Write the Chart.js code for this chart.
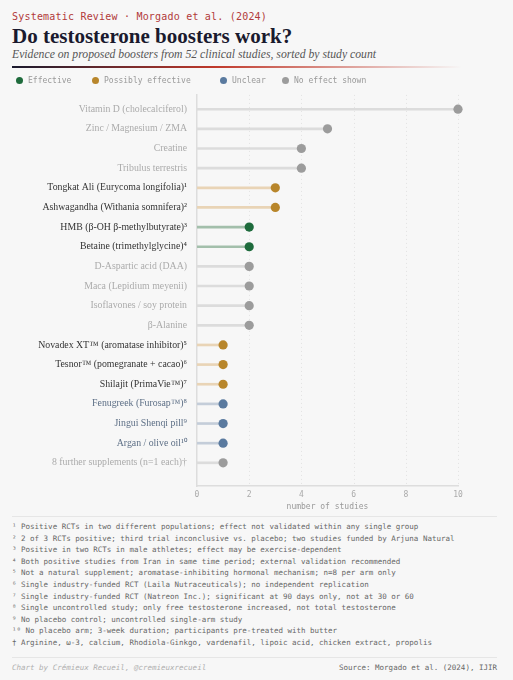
<!DOCTYPE html>
<html lang="en">
<head>
<meta charset="UTF-8">
<title>Do testosterone boosters work?</title>
<script src="https://cdn.jsdelivr.net/npm/chart.js"></script>
<style>
  html, body { margin: 0; padding: 0; background: #f7f7f7; }
  #page { position: relative; width: 513px; height: 680px; overflow: hidden; }
  .kicker { position: absolute; left: 12px; top: 11px; font: 10px "DejaVu Sans Mono", monospace; color: #b23a3a; letter-spacing: 0.2px; }
  .title { position: absolute; left: 12px; top: 24px; font: bold 21px "Liberation Serif", serif; color: #1a1a2e; }
  .subtitle { position: absolute; left: 12px; top: 48px; font: italic 11.7px "Liberation Serif", serif; color: #555; }
  .rule { position: absolute; left: 12px; top: 66px; width: 450px; height: 1.5px;
          background: linear-gradient(to right, #1a1a2e 0%, #c0392b 45%, rgba(192,57,43,0) 100%); }
  .legend { position: absolute; left: 16px; top: 76px; font: 8px "DejaVu Sans Mono", monospace; color: #999; }
  .legend span { position: absolute; white-space: nowrap; }
  .legend i { display: inline-block; width: 7px; height: 7px; border-radius: 50%; vertical-align: -1px; margin-right: 5px; }
  #chartBox { position: absolute; left: 0; top: 79px; width: 513px; height: 437px; }
  .sep { position: absolute; left: 12px; width: 485px; height: 1px; background: #e6e6e6; }
  #notes { position: absolute; left: 12px; top: 521px; font: 7.5px "DejaVu Sans Mono", monospace; color: #666; line-height: 11.6px; white-space: nowrap; }
  .credit { position: absolute; left: 12px; top: 663px; font: italic 7.5px "DejaVu Sans Mono", monospace; color: #b0b0b0; }
  .source { position: absolute; right: 16px; top: 663px; font: 7.5px "DejaVu Sans Mono", monospace; color: #666; }
</style>
</head>
<body>
<div id="page">
  <div class="kicker">Systematic Review · Morgado et al. (2024)</div>
  <div class="title">Do testosterone boosters work?</div>
  <div class="subtitle">Evidence on proposed boosters from 52 clinical studies, sorted by study count</div>
  <div class="rule"></div>
  <div id="chartBox"><canvas id="chart"></canvas></div>
  <div class="legend" id="legend"></div>
  <div class="sep" style="top:516px"></div>
  <div id="notes"></div>
  <div class="sep" style="top:657px"></div>
  <div class="credit">Chart by Crémieux Recueil, @cremieuxrecueil</div>
  <div class="source">Source: Morgado et al. (2024), IJIR</div>
</div>

<script>
// Supplements, top to bottom
var supplements = [
    'Vitamin D (cholecalciferol)',
    'Zinc / Magnesium / ZMA',
    'Creatine',
    'Tribulus terrestris',
    'Tongkat Ali (Eurycoma longifolia)¹',
    'Ashwagandha (Withania somnifera)²',
    'HMB (β-OH β-methylbutyrate)³',
    'Betaine (trimethylglycine)⁴',
    'D-Aspartic acid (DAA)',
    'Maca (Lepidium meyenii)',
    'Isoflavones / soy protein',
    'β-Alanine',
    'Novadex XT™ (aromatase inhibitor)⁵',
    'Tesnor™ (pomegranate + cacao)⁶',
    'Shilajit (PrimaVie™)⁷',
    'Fenugreek (Furosap™)⁸',
    'Jingui Shenqi pill⁹',
    'Argan / olive oil¹⁰',
    '8 further supplements (n=1 each)†'
];

// Number of studies per supplement
var studyCounts = [10, 5, 4, 4, 3, 3, 2, 2, 2, 2, 2, 2, 1, 1, 1, 1, 1, 1, 1];

// Verdict per supplement
var verdicts = [
    'none', 'none', 'none', 'none',
    'possible', 'possible',
    'effective', 'effective',
    'none', 'none', 'none', 'none',
    'possible', 'possible', 'possible',
    'unclear', 'unclear', 'unclear',
    'none'
];

var verdictNames = {
    effective: 'Effective',
    possible: 'Possibly effective',
    unclear: 'Unclear',
    none: 'No effect shown'
};

var xTicks = [0, 2, 4, 6, 8, 10];

var footnotes = [
    '¹ Positive RCTs in two different populations; effect not validated within any single group',
    '² 2 of 3 RCTs positive; third trial inconclusive vs. placebo; two studies funded by Arjuna Natural',
    '³ Positive in two RCTs in male athletes; effect may be exercise-dependent',
    '⁴ Both positive studies from Iran in same time period; external validation recommended',
    '⁵ Not a natural supplement; aromatase-inhibiting hormonal mechanism; n=8 per arm only',
    '⁶ Single industry-funded RCT (Laila Nutraceuticals); no independent replication',
    '⁷ Single industry-funded RCT (Natreon Inc.); significant at 90 days only, not at 30 or 60',
    '⁸ Single uncontrolled study; only free testosterone increased, not total testosterone',
    '⁹ No placebo control; uncontrolled single-arm study',
    '¹⁰ No placebo arm; 3-week duration; participants pre-treated with butter',
    '† Arginine, ω-3, calcium, Rhodiola-Ginkgo, vardenafil, lipoic acid, chicken extract, propolis'
];

// Colours
var dotColor   = { effective: '#1e6b3c', possible: '#b8862b', unclear: '#5a7a9f', none: '#9c9c9c' };
var stemColor  = { effective: '#a3bfab', possible: '#e9d4b6', unclear: '#c4cdd9', none: '#dcdcdc' };
var labelColor = { effective: '#333333', possible: '#333333', unclear: '#5d6f86', none: '#ababab' };

// Legend
var legendLeft = { effective: 0, possible: 76, unclear: 204, none: 266 };
var legend = document.getElementById('legend');
Object.keys(verdictNames).forEach(function (k) {
    var s = document.createElement('span');
    s.style.left = legendLeft[k] + 'px';
    s.innerHTML = '<i style="background:' + dotColor[k] + '"></i>' + verdictNames[k];
    legend.appendChild(s);
});

// Footnotes
document.getElementById('notes').innerHTML = footnotes.join('<br>');

// Chart data
var points = studyCounts.map(function (v, i) { return { x: v, y: i }; });

// dotted vertical gridlines, drawn from the x scale ticks
var dottedGrid = {
    id: 'dottedGrid',
    beforeDatasetsDraw: function (chart) {
        var x = chart.scales.x, area = chart.chartArea, c = chart.ctx;
        c.save();
        c.strokeStyle = '#e2e2e2';
        c.lineWidth = 1;
        c.setLineDash([1, 3]);
        x.ticks.forEach(function (t) {
            if (t.value === 0) return;
            var px = Math.round(x.getPixelForValue(t.value)) + 0.5;
            c.beginPath();
            c.moveTo(px, area.top);
            c.lineTo(px, area.bottom);
            c.stroke();
        });
        c.restore();
    }
};

var ctx = document.getElementById('chart').getContext('2d');
new Chart(ctx, {
    type: 'bar',
    data: {
        datasets: [{
            // stems
            indexAxis: 'y',
            data: points,
            backgroundColor: verdicts.map(function (v) { return stemColor[v]; }),
            barThickness: 2,
            borderWidth: 0,
            order: 2
        }, {
            // dots
            type: 'scatter',
            data: points,
            clip: false,
            pointRadius: 4.6,
            pointHoverRadius: 4.6,
            pointBackgroundColor: verdicts.map(function (v) { return dotColor[v]; }),
            pointBorderWidth: 0,
            order: 1
        }]
    },
    options: {
        responsive: true,
        maintainAspectRatio: false,
        animation: false,
        layout: { padding: { left: 0, right: 55, top: 0, bottom: 4 } },
        plugins: { legend: { display: false }, tooltip: { enabled: false } },
        scales: {
            x: {
                type: 'linear',
                offset: false,
                min: 0,
                max: 10,
                afterBuildTicks: function (scale) {
                    scale.ticks = xTicks.map(function (v) { return { value: v }; });
                },
                afterFit: function (scale) { scale.height = 26; },
                ticks: {
                    padding: 4,
                    color: '#aaaaaa',
                    font: { family: 'DejaVu Sans Mono', size: 8 }
                },
                grid: { display: false, drawTicks: false, offset: false },
                border: { display: true, color: '#dddddd', width: 1.5 },
                title: {
                    display: true,
                    text: 'number of studies',
                    color: '#999999',
                    padding: { top: 0, bottom: 0 },
                    font: { family: 'DejaVu Sans Mono', size: 8 }
                }
            },
            y: {
                type: 'linear',
                offset: false,
                reverse: true,
                min: -0.73,
                max: 19.18,
                afterBuildTicks: function (scale) {
                    scale.ticks = supplements.map(function (_, i) { return { value: i }; });
                },
                afterFit: function (scale) { scale.width = 197; },
                ticks: {
                    padding: 10,
                    autoSkip: false,
                    callback: function (v) { return supplements[v]; },
                    color: function (c) { return labelColor[verdicts[c.index]]; },
                    font: { family: 'Liberation Serif', size: 9.8 }
                },
                grid: { display: false, drawTicks: false, offset: false },
                border: { display: true, color: '#dddddd', width: 1.5 }
            }
        }
    },
    plugins: [dottedGrid]
});
</script>
</body>
</html>
